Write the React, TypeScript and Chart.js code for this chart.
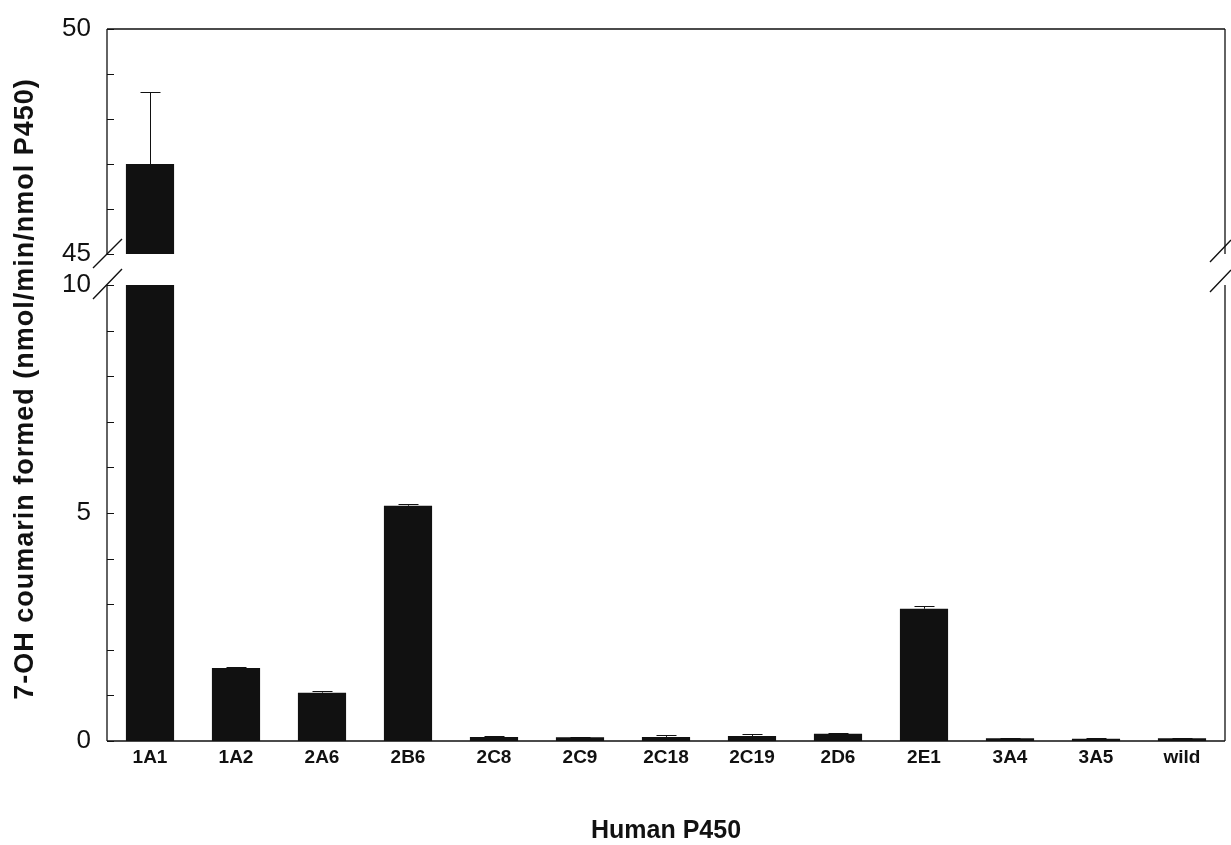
import React, { useEffect, useRef } from 'react';
import { Chart, registerables } from 'chart.js';

Chart.register(...registerables);

// ---- data ----
const categories = ['1A1', '1A2', '2A6', '2B6', '2C8', '2C9', '2C18', '2C19', '2D6', '2E1', '3A4', '3A5', 'wild'];
const values = [47.0, 1.6, 1.06, 5.16, 0.09, 0.08, 0.09, 0.11, 0.16, 2.9, 0.06, 0.05, 0.06];
const errors = [1.6, 0.03, 0.03, 0.03, 0.01, 0.01, 0.04, 0.04, 0.01, 0.07, 0.01, 0.01, 0.01];
const lowerRange = [0, 10];
const upperRange = [45, 50];
const lowerTickLabels = [0, 5, 10];
const upperTickLabels = [45, 50];
const yTitle = '7-OH coumarin formed (nmol/min/nmol P450)';
const xTitle = 'Human P450';

// ---- layout ----
const W = 1231;
const H = 845;
const AXIS_LEFT = 107;
const PAD_RIGHT = 6;
const UPPER_TOP = 29;
const UPPER_CANVAS_H = 275;
const UPPER_PAD_BOTTOM = 21;
const LOWER_TOP = 285;
const X_AXIS_H = 104;
const INK = '#111111';
const SANS = "'Liberation Sans', Arial, sans-serif";
const NARROW = "'Liberation Sans Narrow', 'Liberation Sans', Arial, sans-serif";

type Part = 'upper' | 'lower';

function framePlugin(part: Part) {
  return {
    id: 'frame_' + part,
    afterDraw(chart: any) {
      const { ctx, chartArea } = chart;
      const { left, right, top, bottom } = chartArea;
      const y = chart.scales.y;
      ctx.save();
      ctx.strokeStyle = INK;
      ctx.lineWidth = 1.3;
      ctx.beginPath();
      ctx.moveTo(left, top);
      ctx.lineTo(left, bottom);
      ctx.moveTo(right, top);
      ctx.lineTo(right, bottom);
      if (part === 'upper') {
        ctx.moveTo(left, top);
        ctx.lineTo(right, top);
      } else {
        ctx.moveTo(left, bottom);
        ctx.lineTo(right, bottom);
      }
      ctx.stroke();
      // inward tick marks
      ctx.lineWidth = 1;
      ctx.beginPath();
      y.ticks.forEach((t: any) => {
        const py = Math.round(y.getPixelForValue(t.value)) + 0.5;
        ctx.moveTo(left, py);
        ctx.lineTo(left + 7, py);
      });
      ctx.stroke();
      // break slashes
      ctx.lineWidth = 1.4;
      ctx.beginPath();
      if (part === 'upper') {
        ctx.moveTo(left - 14, bottom + 14);
        ctx.lineTo(left + 15, bottom - 15);
        ctx.moveTo(right - 15, bottom + 8);
        ctx.lineTo(right + 6, bottom - 14);
      } else {
        ctx.moveTo(left - 14, top + 14);
        ctx.lineTo(left + 15, top - 16);
        ctx.moveTo(right - 15, top + 7);
        ctx.lineTo(right + 6, top - 15);
      }
      ctx.stroke();
      ctx.restore();
    },
  };
}

const errorBarPlugin = {
  id: 'errorBars',
  afterDatasetsDraw(chart: any) {
    const { ctx } = chart;
    const y = chart.scales.y;
    const meta = chart.getDatasetMeta(0);
    ctx.save();
    ctx.strokeStyle = INK;
    ctx.lineWidth = 1;
    meta.data.forEach((bar: any, i: number) => {
      const v = values[i];
      const e = errors[i];
      if (v < y.min || v > y.max) return;
      const hi = Math.min(v + e, y.max);
      const x = Math.round(bar.x) + 0.5;
      const y0 = y.getPixelForValue(v);
      const y1 = Math.round(y.getPixelForValue(hi)) + 0.5;
      ctx.beginPath();
      ctx.moveTo(x, y0);
      ctx.lineTo(x, y1);
      ctx.moveTo(x - 10, y1);
      ctx.lineTo(x + 10, y1);
      ctx.stroke();
    });
    ctx.restore();
  },
};

const yTitlePlugin = {
  id: 'yTitle',
  afterDraw(chart: any) {
    const { ctx, chartArea } = chart;
    ctx.save();
    ctx.translate(26, (UPPER_TOP + chartArea.bottom) / 2 + 4);
    ctx.rotate(-Math.PI / 2);
    ctx.fillStyle = INK;
    ctx.font = `bold 27px ${SANS}`;
    ctx.textAlign = 'center';
    ctx.textBaseline = 'middle';
    try {
      (ctx as any).letterSpacing = '1px';
    } catch (e) {}
    ctx.fillText(yTitle, 0, 0);
    ctx.restore();
  },
};

function buildConfig(part: Part): any {
  const range = part === 'upper' ? upperRange : lowerRange;
  const labels = part === 'upper' ? upperTickLabels : lowerTickLabels;
  const isLower = part === 'lower';
  return {
    type: 'bar',
    data: {
      labels: categories,
      datasets: [
        {
          data: values,
          backgroundColor: INK,
          borderWidth: 0,
          categoryPercentage: 1,
          barPercentage: 0.56,
        },
      ],
    },
    options: {
      responsive: false,
      animation: false,
      devicePixelRatio: 1,
      layout: {
        padding: isLower
          ? { top: LOWER_TOP, right: PAD_RIGHT, bottom: 0, left: 0 }
          : { top: UPPER_TOP, right: PAD_RIGHT, bottom: UPPER_PAD_BOTTOM, left: 0 },
      },
      plugins: {
        legend: { display: false },
        tooltip: { enabled: false },
        title: { display: false },
      },
      scales: {
        x: {
          display: isLower,
          grid: { display: false, drawTicks: false },
          border: { display: false },
          ticks: {
            color: INK,
            padding: 5,
            font: { family: NARROW, size: 19, weight: 'bold' },
            maxRotation: 0,
            autoSkip: false,
          },
          title: {
            display: isLower,
            text: xTitle,
            color: INK,
            font: { family: SANS, size: 25, weight: 'bold', lineHeight: 1.1 },
            padding: { top: 0, bottom: 0 },
          },
          afterFit: (scale: any) => {
            scale.height = isLower ? X_AXIS_H : 0;
            scale.paddingLeft = 0;
            scale.paddingRight = 0;
          },
        },
        y: {
          min: range[0],
          max: range[1],
          grid: { display: false, drawTicks: false },
          border: { display: false },
          ticks: {
            stepSize: 1,
            autoSkip: false,
            color: INK,
            padding: 16,
            font: { family: SANS, size: 26 },
            callback: (v: any) => (labels.includes(Number(v)) ? String(v) : ''),
          },
          afterFit: (scale: any) => {
            scale.width = AXIS_LEFT;
            scale.paddingTop = 0;
            scale.paddingBottom = 0;
          },
        },
      },
    },
    plugins: isLower
      ? [framePlugin('lower'), errorBarPlugin, yTitlePlugin]
      : [framePlugin('upper'), errorBarPlugin],
  };
}

export default function App() {
  const upperRef = useRef<HTMLCanvasElement | null>(null);
  const lowerRef = useRef<HTMLCanvasElement | null>(null);

  useEffect(() => {
    const lower = new Chart(lowerRef.current as HTMLCanvasElement, buildConfig('lower'));
    const upper = new Chart(upperRef.current as HTMLCanvasElement, buildConfig('upper'));
    return () => {
      upper.destroy();
      lower.destroy();
    };
  }, []);

  return (
    <div style={{ position: 'fixed', left: 0, top: 0, width: W, height: H, background: '#fff' }}>
      <canvas
        ref={lowerRef}
        width={W}
        height={H}
        style={{ position: 'absolute', left: 0, top: 0, width: W, height: H }}
      />
      <canvas
        ref={upperRef}
        width={W}
        height={UPPER_CANVAS_H}
        style={{ position: 'absolute', left: 0, top: 0, width: W, height: UPPER_CANVAS_H, pointerEvents: 'none' }}
      />
    </div>
  );
}
